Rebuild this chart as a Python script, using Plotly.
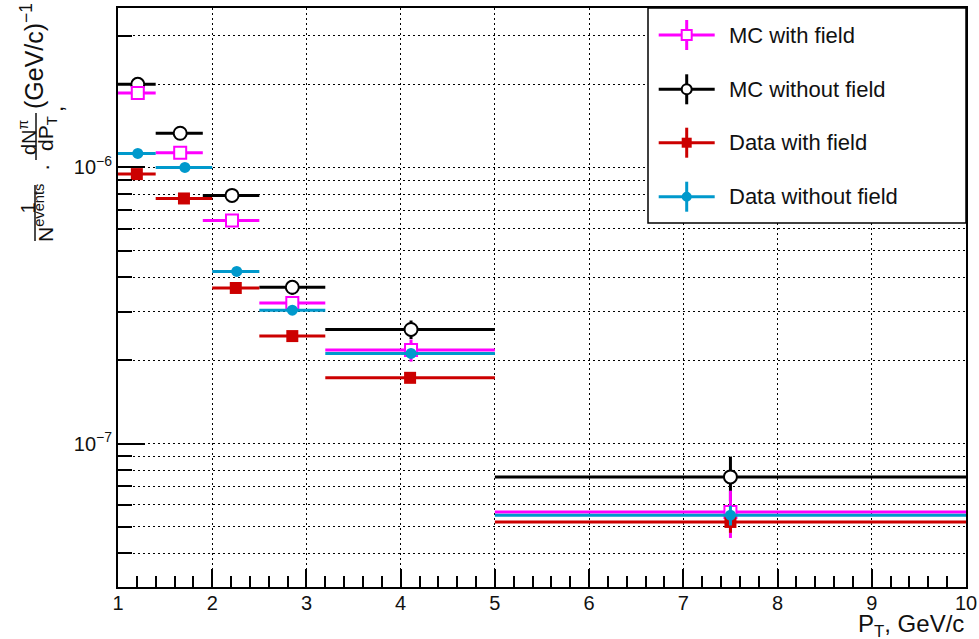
import plotly.graph_objects as go

# ---- binning (GeV/c) ----
mc_lo = [1.0, 1.4, 1.9, 2.5, 3.2, 5.0]
mc_hi = [1.4, 1.9, 2.5, 3.2, 5.0, 10.0]
data_lo = [1.0, 1.4, 2.0, 2.5, 3.2, 5.0]
data_hi = [1.4, 2.0, 2.5, 3.2, 5.0, 10.0]

# ---- MC with field ----
mc_field_x = [1.21, 1.66, 2.21, 2.85, 4.11, 7.50]
mc_field_y = [1.86e-6, 1.13e-6, 6.42e-7, 3.23e-7, 2.18e-7, 5.65e-8]
mc_field_err = [0.02e-6, 0.015e-6, 0.8e-8, 0.6e-8, 0.2e-7, 1.1e-8]

# ---- MC without field ----
mc_nofield_x = [1.21, 1.66, 2.21, 2.85, 4.11, 7.50]
mc_nofield_y = [2.0e-6, 1.33e-6, 7.92e-7, 3.68e-7, 2.59e-7, 7.57e-8]
mc_nofield_err = [0.02e-6, 0.015e-6, 0.9e-8, 0.22e-7, 0.2e-7, 1.4e-8]

# ---- Data with field ----
data_field_x = [1.20, 1.70, 2.25, 2.85, 4.10, 7.50]
data_field_y = [9.46e-7, 7.72e-7, 3.66e-7, 2.45e-7, 1.73e-7, 5.2e-8]
data_field_err = [0.01e-6, 0.8e-8, 0.4e-8, 0.3e-8, 0.2e-8, 0.45e-8]

# ---- Data without field ----
data_nofield_x = [1.21, 1.71, 2.26, 2.85, 4.11, 7.50]
data_nofield_y = [1.124e-6, 1.0e-6, 4.2e-7, 3.04e-7, 2.12e-7, 5.5e-8]
data_nofield_err = [0.01e-6, 0.8e-8, 0.4e-8, 0.3e-8, 0.3e-8, 0.45e-8]

# axis ticks
y_major = [1e-7, 1e-6]
y_major_text = ["10<sup>\u22127</sup>", "10<sup>\u22126</sup>"]
y_minor = [m * 10.0 ** e for e in (-8, -7, -6) for m in range(2, 10)]
x_major = list(range(1, 11))

FONT = "Liberation Sans, Arial, Helvetica, sans-serif"
MAGENTA = "#FF00FF"
BLACK = "#000000"
RED = "#CC0000"
CYAN = "#0099CC"
TEXT = "#111111"

W, H = 979, 639
ML, MR, MT, MB = 118, 13, 8, 52
PW, PH = W - ML - MR, H - MT - MB


def paper(xp, yp):
    return (xp - ML) / PW, (H - MB - yp) / PH


series = [
    ("MC without field", mc_nofield_x, mc_nofield_y, mc_nofield_err, mc_lo, mc_hi,
     dict(symbol="circle", size=13, color="white", line=dict(color=BLACK, width=2)), BLACK),
    ("MC with field", mc_field_x, mc_field_y, mc_field_err, mc_lo, mc_hi,
     dict(symbol="square", size=12, color="white", line=dict(color=MAGENTA, width=2)), MAGENTA),
    ("Data with field", data_field_x, data_field_y, data_field_err, data_lo, data_hi,
     dict(symbol="square", size=12, color=RED, line=dict(width=0)), RED),
    ("Data without field", data_nofield_x, data_nofield_y, data_nofield_err, data_lo, data_hi,
     dict(symbol="circle", size=11, color=CYAN, line=dict(width=0)), CYAN),
]

fig = go.Figure()
for name, xs, ys, es, lo, hi, mk, col in series:
    fig.add_trace(go.Scatter(
        x=xs, y=ys, mode="markers", name=name, showlegend=False,
        marker=mk,
        error_x=dict(type="data", symmetric=False,
                     array=[h - x for h, x in zip(hi, xs)],
                     arrayminus=[x - l for x, l in zip(xs, lo)],
                     color=col, thickness=3, width=0),
        error_y=dict(type="data", array=es, color=col, thickness=3, width=0),
    ))

shapes = []
annotations = []

# ---- legend: white framed box with error-bar style keys ----
legend_rows = [
    ("MC with field", "square", "white", MAGENTA),
    ("MC without field", "circle", "white", BLACK),
    ("Data with field", "square", RED, RED),
    ("Data without field", "circle", CYAN, CYAN),
]
leg_x0, leg_x1, leg_y0, leg_y1 = 648, 966, 8, 223
bx0, by0 = paper(leg_x0, leg_y1)
bx1, by1 = paper(leg_x1, leg_y0)
shapes.append(dict(type="rect", xref="paper", yref="paper", layer="above",
                   x0=bx0, x1=bx1, y0=by0, y1=by1,
                   fillcolor="white", line=dict(color="black", width=1.5)))
row_px = [35, 89.3, 142.7, 196.7]
key_px = 686.7
for (label, sym, fill, col), rp in zip(legend_rows, row_px):
    hx0, hy = paper(key_px - 28, rp)
    hx1, _ = paper(key_px + 28, rp)
    shapes.append(dict(type="line", xref="paper", yref="paper", layer="above",
                       x0=hx0, x1=hx1, y0=hy, y1=hy, line=dict(color=col, width=3)))
    vx, vy0 = paper(key_px, rp + 15)
    _, vy1 = paper(key_px, rp - 15)
    shapes.append(dict(type="line", xref="paper", yref="paper", layer="above",
                       x0=vx, x1=vx, y0=vy0, y1=vy1, line=dict(color=col, width=3)))
    mx0, my0 = paper(key_px - 5, rp + 5)
    mx1, my1 = paper(key_px + 5, rp - 5)
    open_marker = fill == "white"
    shapes.append(dict(type="rect" if sym == "square" else "circle",
                       xref="paper", yref="paper", layer="above",
                       x0=mx0, x1=mx1, y0=my0, y1=my1, fillcolor=fill,
                       line=dict(color=col, width=2 if open_marker else 0)))
    ax_, ay_ = paper(727, rp)
    annotations.append(dict(text=label, x=ax_, y=ay_, xref="paper", yref="paper",
                            xanchor="left", yanchor="middle", showarrow=False,
                            font=dict(family=FONT, size=22, color=TEXT)))

# x-axis title
_, ty = paper(966, 625)
annotations.append(dict(text="P<sub>T</sub>, GeV/c", x=1.0, y=ty, xref="paper", yref="paper",
                        xanchor="right", yanchor="middle", showarrow=False,
                        font=dict(family=FONT, size=24, color=TEXT)))

# y-axis title, assembled from rotated pieces
ytitle_parts = [
    ("1", 27.5, 208, 20),
    ("N<sup>events</sup>", 44, 213, 21),
    ("\u00b7", 47, 168, 22),
    ("dN<sup>\u03c0</sup>", 27, 137, 20),
    ("dP<sub>T</sub>", 47, 134, 21),
    (",", 55, 109, 22),
    ("(GeV/c)<sup>\u22121</sup>", 32, 56, 25),
]
for txt, xp, yp, fs in ytitle_parts:
    px_, py_ = paper(xp, yp)
    annotations.append(dict(text=txt, x=px_, y=py_, xref="paper", yref="paper",
                            xanchor="center", yanchor="middle", textangle=-90, showarrow=False,
                            font=dict(family=FONT, size=fs, color=TEXT)))

for xp, y0p, y1p in [(35, 185, 241), (36, 113, 160)]:
    sx, sy0 = paper(xp, y1p)
    _, sy1 = paper(xp, y0p)
    shapes.append(dict(type="line", xref="paper", yref="paper",
                       x0=sx, x1=sx, y0=sy0, y1=sy1,
                       line=dict(color=TEXT, width=1.5)))

grid_dash = "2px,3px"
fig.update_layout(
    width=W, height=H, autosize=False,
    margin=dict(l=ML, r=MR, t=MT, b=MB, pad=0, autoexpand=False),
    paper_bgcolor="white", plot_bgcolor="white",
    font=dict(family=FONT, size=20, color=TEXT),
    xaxis=dict(
        range=[1, 10], tickmode="array", tickvals=x_major, automargin=False,
        ticks="inside", ticklen=18, tickwidth=1.5, tickcolor="black",
        showline=True, linecolor="black", linewidth=2, mirror=True,
        showgrid=True, gridcolor="black", gridwidth=1, griddash=grid_dash,
        zeroline=False, tickfont=dict(family=FONT, size=20, color=TEXT),
        ticklabelstandoff=-3,
        minor=dict(dtick=0.2, tick0=1, ticks="inside", ticklen=11, tickwidth=1.5,
                   tickcolor="black", showgrid=False),
    ),
    yaxis=dict(
        type="log", range=[-7.5196, -5.4225], automargin=False,
        tickmode="array", tickvals=y_major, ticktext=y_major_text,
        ticks="inside", ticklen=27, tickwidth=1.5, tickcolor="black",
        showline=True, linecolor="black", linewidth=2, mirror=True,
        showgrid=True, gridcolor="black", gridwidth=1, griddash=grid_dash,
        zeroline=False, tickfont=dict(family=FONT, size=20, color=TEXT),
        minor=dict(tickmode="array", tickvals=y_minor, ticks="inside", ticklen=14,
                   tickwidth=1.5, tickcolor="black",
                   showgrid=True, gridcolor="black", gridwidth=1, griddash=grid_dash),
    ),
    annotations=annotations,
    shapes=shapes,
    showlegend=False,
)

fig.write_html("out.html")
